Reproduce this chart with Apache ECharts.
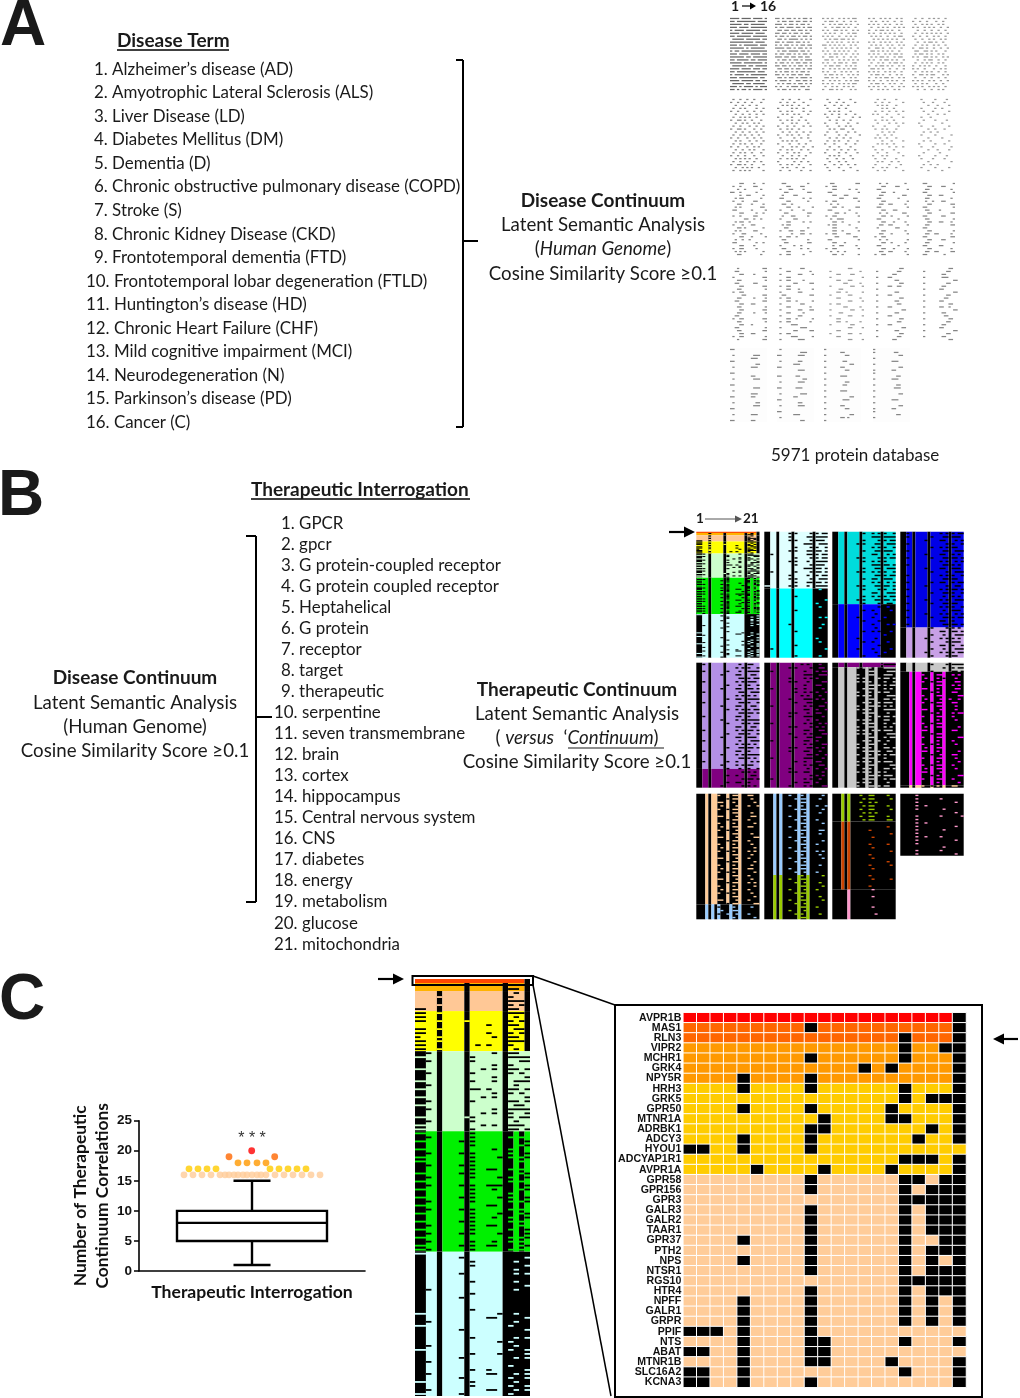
<!DOCTYPE html>
<html><head><meta charset="utf-8">
<style>html,body{margin:0;padding:0;background:#fff}#c{width:1020px;height:1398px}</style>
<script src="https://cdn.jsdelivr.net/npm/echarts@6/dist/echarts.min.js"></script>
</head><body><div id="c"></div>
<script>
// ---------- texts ----------
const diseaseTerms=["1. Alzheimer’s disease (AD)","2. Amyotrophic Lateral Sclerosis (ALS)","3. Liver Disease (LD)","4. Diabetes Mellitus (DM)","5. Dementia (D)","6. Chronic obstructive pulmonary disease (COPD)","7. Stroke (S)","8. Chronic Kidney Disease (CKD)","9. Frontotemporal dementia (FTD)","10. Frontotemporal lobar degeneration (FTLD)","11. Huntington’s disease (HD)","12. Chronic Heart Failure (CHF)","13. Mild cognitive impairment (MCI)","14. Neurodegeneration (N)","15. Parkinson’s disease (PD)","16. Cancer (C)"];
const therapeuticTerms=["1. GPCR","2. gpcr","3. G protein-coupled receptor","4. G protein coupled receptor","5. Heptahelical","6. G protein","7. receptor","8. target","9. therapeutic","10. serpentine","11. seven transmembrane","12. brain","13. cortex","14. hippocampus","15. Central nervous system","16. CNS","17. diabetes","18. energy","19. metabolism","20. glucose","21. mitochondria"];

// ---------- box plot (panel C) ----------
const boxStats=[1,5,8,10,15];
const boxCategory=["Therapeutic Interrogation"];
const swarmX20=[112.7], swarmX19=[90,135.7], swarmX18=[99,108,118,127];
const swarmX17=[50,59,68,77,131,140,149,158,167];
const swarmX16=[45,54,63,72,81,86,90,95,99,104,108,113,118,122,127,136,145,154,163,172,181];

// ---------- zoom heat map (panel C inset) ----------
const geneNames=["AVPR1B","MAS1","RLN3","VIPR2","MCHR1","GRK4","NPY5R","HRH3","GRK5","GPR50","MTNR1A","ADRBK1","ADCY3","HYOU1","ADCYAP1R1","AVPR1A","GPR58","GPR156","GPR3","GALR3","GALR2","TAAR1","GPR37","PTH2","NPS","NTSR1","RGS10","HTR4","NPFF","GALR1","GRPR","PPIF","NTS","ABAT","MTNR1B","SLC16A2","KCNA3"];
const geneLevel=[20,19,19,18,18,18,18,17,17,17,17,17,17,17,17,17,16,16,16,16,16,16,16,16,16,16,16,16,16,16,16,16,16,16,16,16,16];
const geneBlack=[[20],[9,20],[16,20],[16,19,20],[9,16,20],[13,15,20],[4,9,20],[4,9,16,20],[16,18,19,20],[4,9,15,20],[10,15,16,20],[9,10,18,20],[4,9,17,20],[0,1,4,9],[16,17,18,20],[5,10,15,20],[9,16,17,19,20],[9,16,18,19,20],[16,17,18,19,20],[9,16,18,19,20],[9,16,18,19,20],[9,16,18,19,20],[4,9,16,19,20],[9,16,18,19,20],[4,9,16,18,20],[9,16,18,19,20],[16,17,18,19,20],[9,16,18,19,20],[4,9,16,18,20],[4,9,16,18,20],[4,9,16,18,20],[0,1,2,4,9],[4,9,10,16,20],[0,1,4,9,10],[4,9,10,15,20],[0,1,4,16,20],[0,1,4,9,20]];

// ---------- colours ----------
const palette=["#000000","#ffffff","#ff4500","#ffb300","#ffc896","#ffff00","#ccffcc","#00f000","#ccffff","#e0ffff","#00ffff","#00dcdc","#0000ff","#0000e6","#c8a0e6","#b490e6","#800080","#c8c8c8","#ff00ff","#ffcc99","#99ccff","#99cc00","#cc4400","#ff99cc","#666666","#858585","#9a9a9a","#fdfdfd"];
const levelColor={20:"#ff0000",19:"#ff6600",18:"#ff9900",17:"#ffcc00",16:"#ffcc99"};
const BLK=0,WHT=1,RED=2,GOLD=3,PEACH=4,YEL=5,PGRN=6,GRN=7,PCY=8,VPCY=9,CY=10,TRQ=11,BLU=12,BLU2=13,LIL=14,LIL2=15,PUR=16,GRY=17,MAG=18,PCH2=19,LBL=20,YG=21,BRN=22,PNK=23,A1=24,A2=25,A3=26,FNT=27;

// ---------- heat map rows: flips against each band's base mask, one hex digit per 4 columns ----------
const cRowsTop="000000 080020 000060".split(" ");
const cRowsPeach="000020 080040 000070 080050 c00060".split(" ");
const cRowsYellow="c80070 c00020 c84050 000460 c80030 c00450 880260 c80070 c01440 c80020".split(" ");
const cRowsPale="200260 c02078 202018 000240 c00a68 202050 000208 c02238 200020 c03468 000250 c00a08 202068 c00030 200278 000a48 c06058 202020 c00a70 c02068".split(" ");
const cRowsGreen="c02000 202050 c0a008 002018 c00240 20a048 c02158 c02010 20a000 002650 c0a018 202148 c00050 20a708 c02218 002040 c0a148 202058 c00600 20a050 c02118 002248 c0a050 202610 c02048 20a108 c00058 202250 c0a618 e02050".split(" ");
const cRowsCyan="c00000 008008 002020 002008 000020 008028 000000 002020 000008 200020 002000 008000 000000 000000 002000 c00120 000608 200020 c00040 008008 000000 002028 000140 200020 c00048 002108 008028 200000 000040 002408 200628 008048 c02020 002048 200628 c08040".split(" ");
const cRows=[...cRowsTop,...cRowsPeach,...cRowsYellow,...cRowsPale,...cRowsGreen,...cRowsCyan];
const cBands=[[0,1,RED,"000008"],[1,3,GOLD,"004088"],[3,8,PEACH,"084088"],[8,18,YEL,"084088"],[18,38,PGRN,"c84080"],[38,68,GRN,"c840d0"],[68,104,PCY,"c840f8"]];

const b2Rows="00a158 008378 00a170 000738 002148 00a368 200358 002158 00a278 002170 000768 202168 008258 00a138 002368 c0a278 000020 000000 002000 000008 000040 000020 002000 000000 000028 000000 008010 000020 002000 000000 000040 000020 002000 200008 000000 002020".split(" ");
const b2Bands=[[0,16.2,VPCY,"c84080"],[16.2,36,CY,"c840f8"]];
const b3Rows="002548 000778 002158 00a338 000548 002370 000628 00a158 002540 000768 002338 00a548 000358 002670 000528 00a368 002148 000638 002558 00a368 002130 000120 002410 000200 008440 002100 000428 000200 002510 000040 008200 002420 000100 008410 000240 002100".split(" ");
const b3Bands=[[0,20.7,TRQ,"c84080"],[20.7,36,BLU,"c840f8"]];
const b4Rows="200558 202370 008628 200148 002560 200338 008650 202368 000528 200350 008670 002138 200548 000360 202658 008130 200568 002348 200250 008538 202360 000548 200270 008528 202358 000640 200368 002150 000668 002238 008550 002170 000648 002238 008558 002160".split(" ");
const b4Bands=[[0,27.4,BLU2,"c84080"],[27.4,36,LIL,"c84080"]];
const b5Rows="200260 000548 202278 008630 000358 200570 002248 008668 200338 000550 002678 200348 008630 002558 000368 200640 008578 002158 000630 200568 002348 008670 200238 000550 002368 200640 008578 000350 202428 008560 002248 000150 002430 000168 002640 008150".split(" ");
const b5Bands=[[0,30.6,LIL2,"c84080"],[30.6,36,PUR,"c84080"]];
const b6Rows="000a20 00a130 200458 000738 008540 00a218 000460 202410 002548 000a20 008750 002308 200530 000648 00a260 008710 000240 200528 00a150 000630 008518 002360 200640 000518 00a350 008620 000348 200710 002460 000530 008248 00a610 000150 200520 002640 008518".split(" ");
const b6Bands=[[0,36,PUR,"c840f8"]];
const b7Rows="0000f8 00a878 000c38 008c70 00a168 00a848 000d58 002c50 008960 00a838 000c68 002970 008d50 00a878 002c20 000968 00a860 002c48 008c50 00a570 00a838 000c58 002920 008c40 00a868 002d30 008958 002c40 00a970 008c18 002868 00a940 000d70 002c58 00a820 008d60".split(" ");
const b7Bands=[[0,1.3,PUR,"c84080"],[1.3,36,GRY,"c8edf8"]];
const b8Rows="002178 000258 002068 010c50 008a20 012c30 000c50 018830 002860 010c18 008490 012c60 000c20 018420 002858 010c40 000820 012c00 008c10 018060 002c00 010c18 000840 012820 008c00 018810 002460 010c20 000810 012c40 008c20 018400 002818 010c40 000810 012860".split(" ");
const b8Bands=[[0,2.6,GRY,"c84080"],[2.6,35.3,MAG,"e9ddf8"],[35.3,36,PCH2,"e9ddf8"]];
const b9Rows="010c60 002c20 018810 008448 012c00 000c20 018430 002c40 010810 008c60 012400 000c20 018418 002c40 010820 008c10 012850 000c20 018440 002c10 010820 008c60 012810 000c40 018420 002c50 010810 008c40 012820 000c10 018440 002c18 010820 008c00 012440 000810".split(" ");
const b9Bands=[[0,31.7,PCH2,"e9ddf8"],[31.7,36,LBL,"eaedf8"]];
const b10Rows="008810 002c20 000c00 008848 002c10 000420 008c00 002440 000c10 008400 002c30 000820 008c00 002410 000c40 008400 002c50 000820 008c10 002400 000c20 008c00 002440 000810 008c00 002420 000c10 008440 002c00 000820 008c10 002400 000c40 008400 002820 000c00".split(" ");
const b10Bands=[[0,23.3,LBL,"ebedf8"],[23.3,36,YG,"ebedf8"]];
const b11Rows="004c20 002c10 004a00 002c20 004c10 002a00 004c20 002c30 000000 000020 000800 000010 000400 000000 000820 000400 000010 000800 000400 000020 000810 000400 000000 000800 000410 000000 000800 000400 000000 000400 000000 000000 000400 000000 000200 000000".split(" ");
const b11Bands=[[0,8,YG,"ebfff8"],[8,27.5,BRN,"ebfff8"],[27.5,36,PNK,"fbfff8"]];
const b12Rows="040000 040400 040020 048000 040200 000020 040408 040000 048000 040020 040200 040000 048400 040020 040000 000200 040400 040020".split(" ");
const b12Bands=[[0,18,PNK,"ffffff"]];

const aRows=[
"f7bd dfef fb7e ef7f bdfb f7de dfbf 7dfb ffde ebf7 fd7e b7ff ef7b fdbf df6f fbfd 7edf f7bb dfee bd7f eff6 f7db 7dbe ebd7 d6bd",
"d6ad 5b6d eb5a b76b 6db5 dad6 b5ad 6bd5 d76a ad5b f6b5 5bda b6ad edb6 5ad7 b56d dab5 6d6b ad5a d5b6 6b5d ba6d 56b5 a5da 5aa6",
"a956 5a4a 95a9 4b52 a6a5 5496 a92a 56d4 2a95 d54a 4aa9 a552 56a5 9a4a 6955 a5a6 5b2a 9556 a4a9 5a95 6a4a 952b a956 4a54 9a8a",
"a54a 5292 a94a 4a95 96a4 a552 5496 2aa9 a54a 54a5 9a52 6aa4 a95a 5696 a5a9 4a5a 96a5 6a49 a952 5a4a 95a5 a4a9 5a52 a925 4a94",
"4952 9224 4a94 a549 2492 4aa9 9252 494a 25a4 4a52 9a49 66a2 5a94 a6a5 2592 4a94 9522 a44a 4a92 9ac5 4492 a949 4a24 a952 2494",
"4922 9244 2490 4a12 9124 2492 4a90 9a44 2528 4892 9a24 2492 4a48 9124 2892 4a44 9128 24a2 4a44 9222 2a90 4924 9a42 2548 4a82",
"2442 4910 2a44 8290 4a12 2944 8220 4a48 2284 8912 4a40 2492 8a44 4124 2a82 8448 2291 4a24 8942 2248 4a90 8124 4a42 2890 4422",
"4210 2484 8920 4240 2a10 9244 4209 2490 8422 4250 2988 4424 8241 2490 4a22 8844 2210 4924 8242 2a10 4488 2240 8924 4210 2082",
"2420 4904 2a20 0a40 4924 a210 0884 4a40 2124 8410 4a20 0940 2480 5220 0884 2a40 8124 4840 2210 8a04 4420 2890 4108 8a20 2404",
"4108 2210 0884 4120 2204 0890 4400 2108 8020 4204 0910 2480 4102 0820 2404 8110 4202 0884 2040 8108 4210 0802 2480 4104 0820",
"0c22 4830 1204 c810 0982 2c04 4430 1842 2806 6041 0c12 4830 0324 2c80 4460 1a02 2830 4604 0c41 2480 6012 0c20 4c10 2a02 1804",
"3004 0c30 4610 1806 2180 6012 0c04 3200 0c41 4210 1806 2304 4180 0c12 2c00 1804 4630 0232 4c80 3004 1806 4120 3024 0c02 4c10",
"1803 4c00 0c12 3001 0c60 0186 4c01 1200 0c83 3010 0642 4c01 1380 0c81 2c10 0c02 0c81 4c30 0606 3001 0c40 0982 4c01 1240 0c81",
"1202 0c30 3001 0c40 1806 3010 0c01 1982 3001 0c60 1206 0c81 3010 0c42 1981 2030 0c02 1881 4c00 1201 0c82 3010 0c41 1982 4c01",
"3001 0c30 1802 3001 0c60 1802 1230 0c03 3001 1840 0c03 3030 1801 0c62 1803 3000 0c01 1982 3003 0c30 1801 3060 0c02 1983 3010",
"1003 3001 0c20 4003 1801 3030 0c03 1801 4c00 0603 1821 3003 0c60 1801 0c03 1821 3000 4c03 1801 0c40 3001 1803 0c60 4c01 1003",
"4030 0c02 4061 0c00 4c10 0183 4c00 0c41 4060 3003 4c00 0c81 4030 0c02 4063 0c10 4060 0c81 4c02 0380 4038 0183 4c00 0381 4070",
"0060 4002 0c30 4001 0c60 0182 4031 0600 0c81 4060 0c02 0061 4c00 0182 4031 0600 4061 0c00 0c82 4030 0061 0c00 4062 0c00 0061",
"0030 8060 0180 8600 00c0 8030 0660 8000 00c0 8600 0030 80c0 0060 8600 0018 80c0 0600 8030 0060 8600 0018 80c0 0030 8060 0180",
"0018 8030 00c0 80e0 0006 8030 00c0 8180 0006 8030 0060 8180 0018 8190 0006 80c0 0060 8018 0030 80c0 0180 8006 0030 80c0 0018",
"c000 0000 4038 0070 c000 0018 4070 0000 c000 0060 4038 0000 c000 0038 4000 0070 c060 0000 4018 0038 c000 0000 4070 0000 c060",
"4000 0038 c070 0000 4060 01c0 c000 0070 0000 c0c0 0018 4070 0000 c0e0 0000 4038 0180 c000 0060 4070 0000 c000 01c0 4000 0030",
"8000 0180 8060 0000 80c0 0018 8180 0060 8000 01c0 8000 0060 80c0 0000 81c0 0000 8018 00e0 8000 0180 8060 0000 8018 01a0 8000",
"8000 8060 0018 8000 00e0 8000 0018 80c0 8000 0030 80e0 0000 8030 0070 8000 0018 8000 00e0 8000 0018 80c0 8000 0030 8000 0000"
].map(s=>s.split(" "));
const aInk=[A1,A2,A3,A3,A3,A2,A2,A2,A3,A3,A2,A2,A2,A2,A2,A2,A2,A3,A2,A2,A2,A2,A2,A2];

// ---------- layout ----------
const aFrames=[[730,17],[775,17],[822,17],[868,17],[912,17],[730,98],[777,98],[824,98],[872,98],[918,98],[730,182],[777,182],[823,182],[872,182],[918,182],[730,267],[777,267],[827,267],[876,267],[923,267],[730,348],[777,348],[824,348],[873,348]];
const bX=[696.3,764.3,832.3,900.3], bY=[531.7,662.7,793.7];
const heatPanels=[
 {rows:cRows,bands:cBands,n:21,x:415,y:979,w:115,h:417,f:.45},
 {rows:cRows,bands:cBands,n:21,x:bX[0],y:bY[0],w:63.2,h:126,f:.85},
 {rows:b2Rows,bands:b2Bands,n:21,x:bX[1],y:bY[0],w:63.4,h:126,f:.42},
 {rows:b3Rows,bands:b3Bands,n:21,x:bX[2],y:bY[0],w:63.4,h:126,f:.42},
 {rows:b4Rows,bands:b4Bands,n:21,x:bX[3],y:bY[0],w:63.4,h:126,f:.42},
 {rows:b5Rows,bands:b5Bands,n:21,x:bX[0],y:bY[1],w:63.2,h:125,f:.42},
 {rows:b6Rows,bands:b6Bands,n:21,x:bX[1],y:bY[1],w:63.4,h:125,f:.42},
 {rows:b7Rows,bands:b7Bands,n:21,x:bX[2],y:bY[1],w:63.4,h:125,f:.42},
 {rows:b8Rows,bands:b8Bands,n:21,x:bX[3],y:bY[1],w:63.4,h:125,f:.42},
 {rows:b9Rows,bands:b9Bands,n:21,x:bX[0],y:bY[2],w:63.2,h:125.6,f:.4},
 {rows:b10Rows,bands:b10Bands,n:21,x:bX[1],y:bY[2],w:63.4,h:125.6,f:.4},
 {rows:b11Rows,bands:b11Bands,n:21,x:bX[2],y:bY[2],w:63.4,h:125.6,f:.4},
 {rows:b12Rows,bands:b12Bands,n:21,x:bX[3],y:bY[2],w:63.4,h:62,f:.4}
];
aRows.forEach((rows,i)=>heatPanels.push({rows,bands:[[0,rows.length,aInk[i],"ffff"]],n:16,x:aFrames[i][0],y:aFrames[i][1],w:37,h:74,f:.42,off:i>=20?FNT:WHT}));

// ---------- build ----------
const bit=(s,c)=>(parseInt(s[c>>2]||"0",16)>>(3-(c&3)))&1;
function cells(p){
  const out=[],off=p.off===undefined?BLK:p.off;
  const runs=(colorOf,y0,y1)=>{let st=0,cur=colorOf(0);
    for(let c=1;c<=p.n;c++){const k=c<p.n?colorOf(c):-2;if(k!==cur){if(cur>=0)out.push([st,c,y0,y1,cur]);st=c;cur=k;}}};
  p.bands.forEach(b=>runs(c=>bit(b[3],c)?off:b[2],b[0],b[1]));
  p.rows.forEach((r,i)=>{const b=p.bands.find(q=>i+.5<q[1])||p.bands[p.bands.length-1];
    const g=(1-p.f)/2;
    runs(c=>bit(r,c)?(bit(b[3],c)?b[2]:off):-1,i+g,i+1-g);});
  return out;
}
const grids=[],xAxes=[],yAxes=[],series=[];
const renderRect=(params,api)=>{const a=api.coord([api.value(0),api.value(2)]),b=api.coord([api.value(1),api.value(3)]);
  return {type:'rect',silent:true,shape:{x:a[0],y:a[1],width:b[0]-a[0],height:b[1]-a[1]},style:{fill:palette[api.value(4)]}};};
heatPanels.forEach(p=>{
  const i=grids.length;
  grids.push({left:p.x,top:p.y,width:p.w,height:p.h,containLabel:false});
  xAxes.push({gridIndex:i,type:'value',min:0,max:p.n,show:false});
  yAxes.push({gridIndex:i,type:'value',min:0,max:p.rows.length,inverse:true,show:false});
  series.push({type:'custom',xAxisIndex:i,yAxisIndex:i,renderItem:renderRect,encode:{x:[0,1],y:[2,3]},data:cells(p),animation:false,silent:true,clip:false});
});

// inset heat map
{const i=grids.length;
 grids.push({left:683.3,top:1012.7,width:282.7,height:374.6});
 const cols=Array.from({length:21},(_,k)=>String(k+1));
 xAxes.push({gridIndex:i,type:'category',data:cols,show:false});
 yAxes.push({gridIndex:i,type:'category',data:geneNames,inverse:true,axisLine:{show:false},axisTick:{show:false},axisLabel:{interval:0,margin:2,fontFamily:'Liberation Sans',fontWeight:'bold',fontSize:10.6,color:'#111'}});
 const d=[];
 geneNames.forEach((g,r)=>{for(let c=0;c<21;c++){const blk=geneBlack[r].includes(c);d.push({value:[c,r,blk?0:geneLevel[r]],itemStyle:{color:blk?'#000':levelColor[geneLevel[r]]}});}});
 series.push({type:'heatmap',xAxisIndex:i,yAxisIndex:i,data:d,animation:false,silent:true,itemStyle:{borderColor:'#fff',borderWidth:1},emphasis:{disabled:true}});
}
// box plot
{const i=grids.length;
 grids.push({left:139,top:1120.7,width:226,height:150.3});
 const j=xAxes.length;
 xAxes.push({gridIndex:i,type:'category',data:boxCategory,axisLine:{lineStyle:{color:'#000',width:1.6}},axisTick:{alignWithLabel:true,length:5,lineStyle:{color:'#000',width:1.5}},axisLabel:{margin:12,color:'#111',fontFamily:'Lato',fontWeight:'bold',fontSize:17.6}});
 xAxes.push({gridIndex:i,type:'value',min:0,max:226,show:false});
 yAxes.push({gridIndex:i,type:'value',min:0,max:25,interval:5,splitLine:{show:false},
   axisLine:{show:true,lineStyle:{color:'#000',width:1.6}},axisTick:{show:true,length:5,lineStyle:{color:'#000',width:1.5}},
   axisLabel:{margin:7,color:'#111',fontFamily:'Liberation Sans',fontWeight:'bold',fontSize:13.5},
   name:"Number of Therapeutic\nContinuum Correlations",nameLocation:'middle',nameRotate:90,nameGap:22,
   nameTextStyle:{color:'#111',fontFamily:'Lato',fontWeight:'bold',fontSize:17.4,lineHeight:22}});
 const yIdx=yAxes.length-1;
 series.push({type:'custom',xAxisIndex:j+1,yAxisIndex:yIdx,data:[[113,...boxStats]],animation:false,silent:true,encode:{x:0,y:[1,2,3,4,5]},
  renderItem:(pa,api)=>{const cx=api.value(0),P=(x,v)=>api.coord([x,v]);const s={stroke:'#000',lineWidth:2.4,fill:null};
   const l=(a,b)=>({type:'line',shape:{x1:a[0],y1:a[1],x2:b[0],y2:b[1]},style:s});
   const mn=api.value(1),q1=api.value(2),md=api.value(3),q3=api.value(4),mx=api.value(5);
   const bl=P(cx-75,q3),br=P(cx+75,q1);
   return {type:'group',children:[
     l(P(cx,mn),P(cx,q1)),l(P(cx,q3),P(cx,mx)),l(P(cx-18.5,mn),P(cx+18.5,mn)),l(P(cx-18.5,mx),P(cx+18.5,mx)),
     {type:'rect',shape:{x:bl[0],y:bl[1],width:br[0]-bl[0],height:br[1]-bl[1]},style:s},
     l(P(cx-75,md),P(cx+75,md))]};}});
 [[swarmX16,16,levelColor[16]],[swarmX17,17,levelColor[17]],[swarmX18,18,levelColor[18]],[swarmX19,19,levelColor[19]],[swarmX20,20,levelColor[20]]].forEach(([xs,v,c])=>{
   series.push({type:'scatter',xAxisIndex:j+1,yAxisIndex:yIdx,data:xs.map(x=>[x,v]),symbolSize:6.8,itemStyle:{color:c},animation:false,silent:true});
 });
}

// ---------- static text & lines ----------
const g=[];
const body='Lato';
const T=(text,x,y,o={})=>g.push({type:'text',silent:true,z:50,style:Object.assign({text,x,y,fill:'#1a1a1a',font:`${o.w||'normal'} ${o.s||16.9}px ${o.f||body}`,textAlign:o.a||'left',textVerticalAlign:'middle'},o.extra||{})});
const L=(x1,y1,x2,y2,w=2,c='#000')=>g.push({type:'line',silent:true,z:40,shape:{x1,y1,x2,y2},style:{stroke:c,lineWidth:w}});
const Arrow=(x1,y,x2,w=2.2,hl=9,hw=5,c='#000')=>{L(x1,y,x2-(x2>x1?hl:-hl)*.8,y,w,c);g.push({type:'polygon',silent:true,z:41,shape:{points:[[x2,y],[x2-(x2>x1?hl:-hl),y-hw],[x2-(x2>x1?hl:-hl),y+hw]]},style:{fill:c}});};
const big=(t,x,y)=>T(t,x,y,{w:'bold',s:64,f:'Liberation Sans'});
big('A',0,27);big('B',-2,497);big('C',-1,1001);

// A text
T('Disease Term',117,41,{w:'bold',s:19});L(117,50,229,50,1.5);
diseaseTerms.forEach((t,i)=>T(t,i<9?94:86,69.2+i*23.55));
L(456,60,463,60,2);L(463,60,463,427,2);L(456,427,463,427,2);L(463,241,478,241,2);
T('Disease Continuum',603,201,{w:'bold',a:'center',s:19});
T('Latent Semantic Analysis',603,225,{a:'center',s:18.7});
T('({i|Human Genome})',603,249,{a:'center',s:18.7,extra:{rich:{i:{font:`italic 18.7px ${body}`,fill:'#1a1a1a'}}}});
T('Cosine Similarity Score ≥0.1',603,274,{a:'center',s:18.7});
T('5971 protein database',771,456,{s:17});
T('1',731,6,{w:'bold',s:14});T('16',760,6,{w:'bold',s:14});Arrow(742,6,756,1.2,6,3.5);

// B text
T('Therapeutic Interrogation',251,490,{w:'bold',s:19});L(251,499,470,499,1.5);
therapeuticTerms.forEach((t,i)=>T(t,i<9?281:274,523.5+i*21.03));
L(246,536,256,536,2);L(256,536,256,902,2);L(246,902,256,902,2);L(256,717,272,717,2);
T('Disease Continuum',135,678,{w:'bold',a:'center',s:19});
T('Latent Semantic Analysis',135,703,{a:'center',s:18.7});
T('(Human Genome)',135,727,{a:'center',s:18.7});
T('Cosine Similarity Score ≥0.1',135,751,{a:'center',s:18.7});
T('Therapeutic Continuum',577,690,{w:'bold',a:'center',s:19});
T('Latent Semantic Analysis',577,714,{a:'center',s:18.7});
T('( {i|versus}  ‘{i|Continuum})',577,738,{a:'center',s:18.7,extra:{rich:{i:{font:`italic 18.7px ${body}`,fill:'#1a1a1a'}}}});
L(568,748,664,748,1.2,'#1a1a1a');
T('Cosine Similarity Score ≥0.1',577,762,{a:'center',s:18.7});
T('1',696,519,{w:'bold',s:13.5});T('21',743,519,{w:'bold',s:13.5});Arrow(705,519,742,1,7,3.5,'#555');
Arrow(669,532,695,2.2,11,5.5);

// C decoration
T('* * *',252,1139,{a:'center',s:16,f:'Liberation Sans',extra:{fill:'#333'}});
Arrow(378,979,404,2.2,11,5.5);
Arrow(1018,1039,993,2.2,11,5.5);
g.push({type:'rect',silent:true,z:45,shape:{x:412.5,y:976,width:120.5,height:9},style:{fill:null,stroke:'#000',lineWidth:2}});
g.push({type:'rect',silent:true,z:45,shape:{x:615,y:1005,width:367,height:392},style:{fill:null,stroke:'#000',lineWidth:2}});
L(533,976,615,1005,1.5);L(533,985,611,1396,1.5);

echarts.init(document.getElementById('c'),null,{renderer:'canvas'}).setOption({
  animation:false,backgroundColor:'#fff',grid:grids,xAxis:xAxes,yAxis:yAxes,series,graphic:{elements:g}
});
</script></body></html>
